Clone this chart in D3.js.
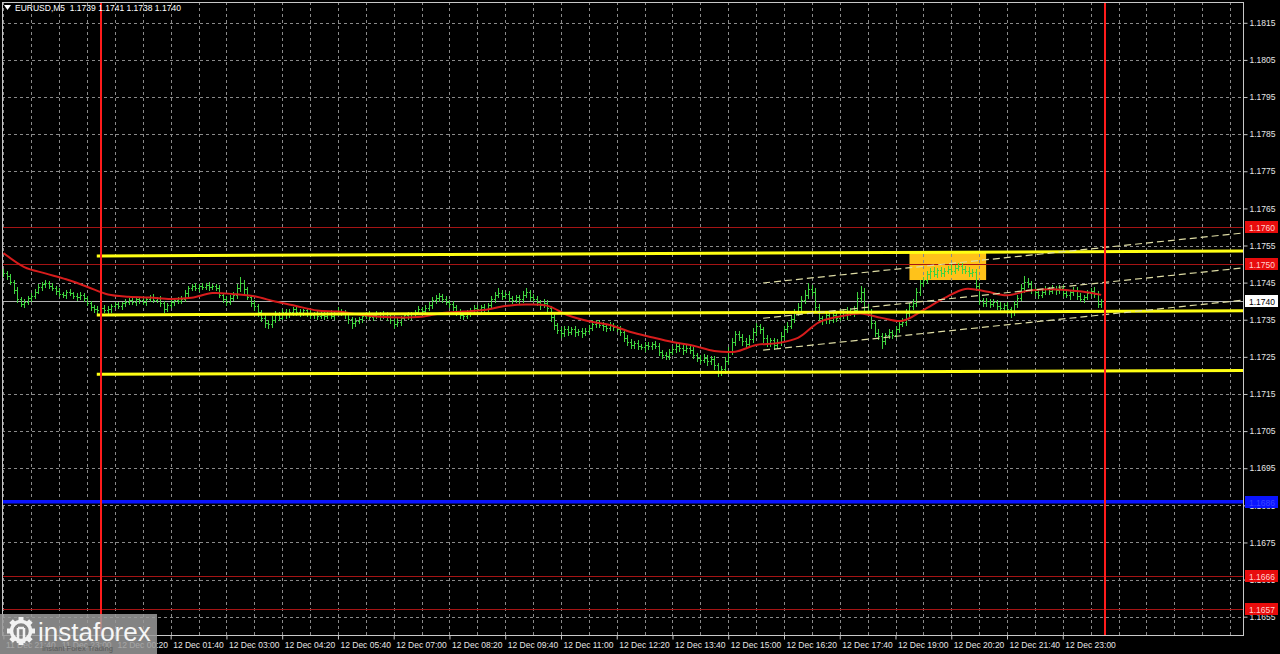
<!DOCTYPE html>
<html lang="en">
<head>
<meta charset="UTF-8">
<title>EURUSD,M5</title>
<script src="https://cdnjs.cloudflare.com/ajax/libs/d3/7.9.0/d3.min.js"></script>
<style>
    html, body { margin: 0; padding: 0; background: #000; overflow: hidden; }
    svg { display: block; }
    text { font-family: "Liberation Sans", Arial, sans-serif; }
</style>
</head>
<body>
<svg id="chart" width="1280" height="654"></svg>
<script>
// bar prices are stored in pips above 1.1700
const BASE = 1.17;
const PIP = 0.0001;
const firstBar = Date.UTC(2025, 11, 11, 21, 40);
const firstOpen = 48.0;

const closes = [
    47.5,46.8,45.2,43.0,40.5,39.2,39.8,40.8,41.5,42.6,43.8,44.5,
    45.0,44.2,43.6,42.8,42.0,41.8,42.5,42.1,41.5,41.0,41.6,40.8,
    39.5,38.4,37.9,37.5,38.2,37.6,38.0,38.8,39.2,38.7,39.4,39.9,
    40.3,39.8,40.5,40.2,39.9,40.6,41.0,40.4,40.8,39.5,38.0,38.9,
    39.8,40.4,40.1,40.7,42.2,43.5,44.0,43.6,44.2,43.8,44.3,43.9,
    44.1,43.5,41.8,40.6,39.8,40.9,41.6,43.5,45.0,43.2,41.2,39.5,
    38.6,37.0,35.5,34.2,33.8,35.0,36.4,35.6,37.2,36.5,37.0,37.8,
    37.2,36.8,37.5,36.9,36.2,36.7,35.9,36.4,36.0,36.6,36.1,36.8,
    37.4,37.0,36.5,35.2,34.0,34.6,35.3,36.0,36.4,35.8,36.2,36.6,
    36.0,36.5,35.7,35.0,33.8,34.5,35.6,36.2,35.8,36.5,37.0,37.8,
    37.4,38.2,39.0,40.2,40.8,41.3,40.6,39.8,39.2,38.4,37.2,36.4,
    36.0,36.8,37.6,38.2,37.8,38.5,38.0,38.9,40.5,41.6,42.3,41.4,
    41.9,40.8,40.2,41.0,40.5,41.8,42.5,41.2,40.6,39.8,39.0,39.6,
    38.2,35.8,33.5,32.2,31.5,32.6,31.8,32.4,31.6,32.0,31.4,32.1,
    32.8,33.9,34.2,33.6,33.2,32.8,33.5,33.0,32.6,31.8,30.2,28.9,
    28.2,28.6,28.0,27.6,28.3,27.8,28.5,27.9,26.4,25.6,25.2,26.3,
    27.2,27.8,27.4,26.8,27.5,26.9,25.6,24.8,24.2,24.8,23.9,24.5,
    22.8,21.2,21.6,24.0,26.5,29.0,31.2,30.4,29.2,28.5,29.8,31.6,
    33.2,32.4,30.0,28.8,29.5,28.2,28.9,30.6,32.5,33.4,35.2,37.0,
    38.4,40.2,41.8,43.2,42.6,38.5,35.4,34.8,36.2,35.0,36.4,35.6,
    37.0,36.2,37.4,36.8,37.5,40.8,42.6,38.5,37.2,34.0,31.5,30.6,
    29.4,30.8,31.6,31.0,32.6,33.8,34.5,36.8,38.6,39.5,42.4,44.8,
    45.6,47.2,48.0,47.4,48.3,47.6,48.1,48.7,48.2,49.0,49.4,48.6,
    48.2,47.5,47.9,44.0,40.2,39.4,40.0,39.2,39.7,38.8,38.2,38.9,
    37.8,37.0,39.2,40.8,43.5,45.2,44.6,43.0,42.4,41.8,42.5,43.2,
    42.7,43.4,42.9,43.6,42.2,41.6,42.4,43.0,41.4,40.6,41.2,42.3,
    42.8,42.0,39.2,40.0
];

// wick above max(open, close) and below min(open, close), pips
const wickUp = [
    0.8,0.5,0.6,0.4,0.9,0.6,0.7,0.5,0.8,0.6,0.9,0.7,
    0.6,0.4,0.8,0.5,0.7,0.6,0.5,0.9,0.4,0.6,0.8,0.5,
    0.7,0.5,0.6,0.8,0.4,0.9,0.6,0.5,0.7,0.6,0.4,0.8,
    0.5,0.7,0.6,0.4,0.8,0.5,0.6,0.9,0.4,0.7,0.5,0.6,
    0.8,0.5,0.7,0.6,0.9,0.7,0.6,0.8,0.5,0.7,0.6,0.9,
    0.5,0.6,0.8,0.4,0.7,0.9,1.0,1.2,1.5,0.8,0.6,0.5,
    0.7,0.6,0.5,0.8,0.6,0.9,1.0,0.7,0.8,0.6,0.9,0.5,
    0.6,0.8,0.5,0.7,0.6,0.4,0.8,0.6,0.7,0.5,0.9,0.6,
    1.0,0.6,0.5,0.7,0.6,0.8,0.5,0.7,0.6,0.9,0.5,0.7,
    0.6,0.8,0.5,0.7,0.6,0.9,0.5,0.7,0.8,0.6,0.7,0.9,
    0.6,0.8,0.7,0.9,1.0,0.8,0.6,0.7,0.5,0.8,0.6,0.7,
    0.5,0.8,0.6,0.9,0.7,0.6,0.8,0.7,1.0,0.9,1.2,0.8,
    0.7,0.9,0.6,0.8,0.7,1.0,1.1,0.6,0.8,0.7,0.5,0.9,
    0.8,0.6,0.7,0.5,0.9,0.8,0.6,0.7,0.9,0.5,0.8,0.6,
    0.9,1.0,0.8,0.6,0.7,0.5,0.9,0.6,0.7,0.8,0.6,0.7,
    0.8,0.6,0.9,0.5,0.7,0.8,0.6,0.9,0.7,0.5,0.8,0.9,
    0.7,1.0,0.6,0.8,0.7,0.6,0.8,0.5,0.7,0.9,0.6,0.8,
    0.7,0.6,0.9,1.0,1.1,1.2,0.9,0.8,0.7,0.9,1.0,1.1,
    0.9,0.7,0.6,0.8,0.7,0.6,0.9,1.0,0.8,0.9,1.1,1.0,
    1.0,1.2,1.1,1.6,1.2,0.9,0.8,0.7,1.0,0.8,0.9,0.7,
    0.8,0.9,1.0,0.7,1.2,1.8,1.5,1.0,0.8,0.6,0.7,0.9,
    0.8,0.6,0.9,0.7,0.8,0.9,1.0,1.1,0.8,1.0,1.2,0.9,
    1.0,0.8,0.9,1.1,0.7,1.0,0.8,0.9,1.2,0.8,1.0,0.9,
    0.8,1.0,0.7,0.9,0.8,0.7,0.9,0.6,0.8,0.7,0.9,0.6,
    0.8,0.7,0.9,1.0,1.2,1.5,1.0,0.8,0.7,0.9,0.6,0.8,
    0.7,0.9,0.6,0.8,0.7,0.9,0.6,0.8,0.7,0.9,0.6,0.8,
    0.7,0.9,0.8,0.6
];
const wickDown = [
    0.6,0.8,0.5,0.9,0.7,0.6,0.8,0.5,0.7,0.6,0.5,0.8,
    0.7,0.6,0.5,0.8,0.6,0.7,0.9,0.5,0.6,0.8,0.5,0.7,
    0.6,0.9,0.7,0.8,0.5,0.6,0.7,0.8,0.5,0.6,0.9,0.7,
    0.6,0.5,0.8,0.7,0.6,0.9,0.5,0.7,0.6,0.8,1.0,0.7,
    0.6,0.8,0.5,0.7,0.6,0.8,0.5,0.7,0.9,0.6,0.5,0.8,
    0.7,0.6,0.8,0.9,0.7,0.5,0.6,0.7,0.8,0.9,0.7,0.8,
    0.9,1.0,0.8,1.1,0.9,0.7,0.6,0.8,0.5,0.9,0.7,0.6,
    0.8,0.7,0.5,0.9,0.6,0.8,0.7,0.5,0.9,0.6,0.7,0.8,
    0.6,0.7,0.9,1.0,1.1,0.7,0.6,0.8,0.5,0.7,0.9,0.6,
    0.8,0.6,0.7,0.9,1.0,0.6,0.8,0.5,0.7,0.6,0.8,0.5,
    0.7,0.6,0.5,0.8,0.6,0.7,0.9,0.6,0.8,0.7,1.0,0.9,
    0.8,0.6,0.7,0.5,0.8,0.6,0.9,0.7,0.6,0.8,0.5,0.9,
    0.6,0.8,0.7,0.5,0.9,0.6,0.7,0.8,0.6,0.9,1.0,0.7,
    1.0,1.2,1.1,0.9,1.2,0.8,1.0,0.7,0.9,0.8,1.0,0.6,
    0.7,0.5,0.8,0.6,0.9,0.7,0.6,0.8,0.7,0.9,1.0,0.8,
    0.9,0.7,0.8,0.6,0.9,0.7,0.8,0.6,1.0,0.9,0.8,0.7,
    0.6,0.8,0.7,0.9,0.6,0.8,1.0,0.9,0.8,0.7,1.0,0.8,
    1.0,1.3,1.1,0.9,0.8,0.7,0.9,0.8,1.0,0.9,0.7,0.8,
    0.7,1.0,0.9,1.0,0.8,1.2,0.9,0.8,0.7,0.9,0.6,0.8,
    0.7,0.8,0.6,0.9,1.0,1.2,1.0,0.9,0.8,1.0,0.7,0.9,
    0.8,0.7,0.9,0.6,0.8,0.7,1.0,1.2,0.9,1.1,1.0,0.9,
    2.0,1.0,0.8,0.9,0.7,0.8,0.6,0.9,0.7,0.8,0.9,0.6,
    0.8,0.7,0.9,0.6,0.8,0.7,0.9,0.6,0.8,0.7,0.6,0.9,
    0.7,0.8,0.6,0.9,1.0,0.8,0.7,0.9,0.6,0.8,0.9,0.7,
    1.0,1.2,0.8,0.7,0.6,0.9,0.7,0.8,0.6,0.9,0.7,0.6,
    0.8,0.6,0.9,0.7,0.8,0.6,0.9,0.7,0.8,0.6,0.9,0.7,
    0.6,0.8,0.9,0.7
];

// red moving average, read every 6th bar (plus the last bar), pips
const maPips = [
    53.0,49.2,47.5,45.9,43.9,41.8,41.2,41.0,40.6,40.9,42.2,41.9,41.3,39.9,
    38.7,37.5,37.2,36.4,35.8,35.6,35.8,36.8,37.2,37.6,38.7,39.1,38.8,36.2,
    34.6,33.6,31.7,30.3,29.0,28.0,26.6,26.4,28.2,28.7,30.1,34.3,35.9,36.7,
    35.5,34.7,37.6,40.8,43.3,42.6,41.6,42.8,43.2,42.9,42.3,41.7
];

const priceTicks = [1.1655, 1.1665, 1.1675, 1.1685, 1.1695, 1.1705, 1.1715, 1.1725,
    1.1735, 1.1745, 1.1755, 1.1765, 1.1775, 1.1785, 1.1795, 1.1805, 1.1815];
const timeLabels = ["11 Dec 21:40", "11 Dec 23:00", "12 Dec 00:20", "12 Dec 01:40",
    "12 Dec 03:00", "12 Dec 04:20", "12 Dec 05:40", "12 Dec 07:00", "12 Dec 08:20",
    "12 Dec 09:40", "12 Dec 11:00", "12 Dec 12:20", "12 Dec 13:40", "12 Dec 15:00",
    "12 Dec 16:20", "12 Dec 17:40", "12 Dec 19:00", "12 Dec 20:20", "12 Dec 21:40",
    "12 Dec 23:00"];

const redLevels = [1.1760, 1.1750, 1.1666, 1.1657];
const blueLevel = 1.1686;
const bidPrice = 1.1740;
const quote = ["1.1739", "1.1741", "1.1738", "1.1740"];

// yellow trend lines: price at start / end
const yellowStart = [1.17522, 1.17363, 1.17203];
const yellowEnd = [1.17535, 1.17374, 1.17213];
// dashed channel
const channelStart = [1.17449, 1.17354, 1.17268];
const channelEnd = [1.17584, 1.17490, 1.17403];
const boxTop = 1.17533, boxBottom = 1.17457;

const minute = 60000;
const day0 = Date.UTC(2025, 11, 12, 0, 0);
function at(min) { return new Date(day0 + min * minute); }

const plotL = 2, plotR = 1244, plotT = 2, plotB = 636;

var svg = d3.select("#chart");
svg.append("rect").attr("width", 1280).attr("height", 654).attr("fill", "#000");

var x = d3.scaleUtc()
    .domain([at(-142), at(1640)])
    .range([plotL, plotR]);
var y = d3.scaleLinear()
    .domain([1.16498, 1.18206])
    .range([plotB, plotT]);

function px(v) { return Math.round(v) + 0.5; }

svg.append("clipPath").attr("id", "plot")
    .append("rect").attr("x", plotL).attr("y", plotT)
    .attr("width", plotR - plotL).attr("height", plotB - plotT);

var g = svg.append("g").attr("clip-path", "url(#plot)");

// orange box (background object)
g.append("rect")
    .attr("x", x(at(1160))).attr("y", y(boxTop))
    .attr("width", x(at(1270)) - x(at(1160)))
    .attr("height", y(boxBottom) - y(boxTop))
    .attr("fill", "#ffc21a");

// grid
var grid = g.append("g")
    .attr("stroke", "#8a8a8a")
    .attr("stroke-width", 1)
    .attr("stroke-dasharray", "3,3");
grid.selectAll("line.h")
    .data(priceTicks)
    .join("line").attr("class", "h")
    .attr("x1", plotL).attr("x2", plotR)
    .attr("y1", function (d) { return px(y(d)); })
    .attr("y2", function (d) { return px(y(d)); });
grid.selectAll("line.v")
    .data(d3.range(-140, 1641, 40))
    .join("line").attr("class", "v")
    .attr("y1", plotT).attr("y2", plotB)
    .attr("x1", function (d) { return px(x(at(d))); })
    .attr("x2", function (d) { return px(x(at(d))); });

// horizontal levels
g.selectAll("line.red")
    .data(redLevels)
    .join("line").attr("class", "red")
    .attr("x1", plotL).attr("x2", plotR)
    .attr("y1", function (d) { return px(y(d)); })
    .attr("y2", function (d) { return px(y(d)); })
    .attr("stroke", "#a51414")
    .attr("stroke-width", 1);

g.append("line")
    .attr("x1", plotL).attr("x2", plotR)
    .attr("y1", px(y(bidPrice))).attr("y2", px(y(bidPrice)))
    .attr("stroke", "#b4b4b4").attr("stroke-width", 1);

// bars
var bars = closes.map(function (c, i) {
    var o = i === 0 ? firstOpen : closes[i - 1];
    return {
        time: new Date(firstBar + i * 5 * minute),
        open: BASE + o * PIP,
        close: BASE + c * PIP,
        high: BASE + (Math.max(o, c) + wickUp[i]) * PIP,
        low: BASE + (Math.min(o, c) - wickDown[i]) * PIP
    };
});

g.append("g")
    .selectAll("path")
    .data(bars)
    .join("path")
    .attr("d", function (d) {
        var cx = px(x(d.time));
        var yo = px(y(d.open)), yc = px(y(d.close));
        return "M" + cx + "," + Math.round(y(d.high)) + "V" + (Math.round(y(d.low)) + 1) +
            "M" + (cx - 1.5) + "," + yo + "H" + cx +
            "M" + cx + "," + yc + "H" + (cx + 1.5);
    })
    .attr("fill", "none")
    .attr("stroke", "#3fd43f")
    .attr("stroke-width", 1);

// moving average
var maBars = d3.range(0, 313, 6).concat([315]);
var maLine = d3.line()
    .x(function (d, i) { return x(new Date(firstBar + maBars[i] * 5 * minute)); })
    .y(function (d) { return y(BASE + d * PIP); })
    .curve(d3.curveCatmullRom);
g.append("path")
    .datum(maPips)
    .attr("d", maLine)
    .attr("fill", "none")
    .attr("stroke", "#d71c1c")
    .attr("stroke-width", 2);

// yellow trend lines
g.selectAll("line.yellow")
    .data(yellowStart)
    .join("line").attr("class", "yellow")
    .attr("x1", x(at(-6))).attr("x2", plotR)
    .attr("y1", function (d) { return y(d); })
    .attr("y2", function (d, i) { return y(yellowEnd[i]); })
    .attr("stroke", "#ffff14")
    .attr("stroke-width", 3);

// dashed channel
g.selectAll("line.channel")
    .data(channelStart)
    .join("line").attr("class", "channel")
    .attr("x1", x(at(950))).attr("x2", plotR)
    .attr("y1", function (d) { return y(d); })
    .attr("y2", function (d, i) { return y(channelEnd[i]); })
    .attr("stroke", "#dedca4")
    .attr("stroke-width", 1.2)
    .attr("stroke-dasharray", "7,4");

// blue level
g.append("line")
    .attr("x1", plotL).attr("x2", plotR)
    .attr("y1", y(blueLevel)).attr("y2", y(blueLevel))
    .attr("stroke", "#0a14ff").attr("stroke-width", 3.5);

// day separators
g.selectAll("line.day")
    .data([at(0), at(1440)])
    .join("line").attr("class", "day")
    .attr("x1", function (d) { return Math.round(x(d)); })
    .attr("x2", function (d) { return Math.round(x(d)); })
    .attr("y1", plotT).attr("y2", plotB)
    .attr("stroke", "#ff1c1c").attr("stroke-width", 2);

// frame
svg.append("rect")
    .attr("x", plotL + 0.5).attr("y", plotT + 0.5)
    .attr("width", plotR - plotL - 1).attr("height", plotB - plotT - 1)
    .attr("fill", "none").attr("stroke", "#c8c8c8");

// price axis
var yAxis = svg.append("g")
    .attr("transform", "translate(" + (plotR - 0.5) + ",0)")
    .call(d3.axisRight(y).tickValues(priceTicks).tickFormat(d3.format(".4f")).tickSize(4).tickPadding(2));
yAxis.select(".domain").remove();
yAxis.selectAll("line").attr("stroke", "#c8c8c8");
yAxis.selectAll("text").attr("fill", "#e6e6e6").attr("font-size", "8.5px")
    .attr("font-family", "'Liberation Sans', Arial, sans-serif");

// time axis
var parseLabel = d3.utcParse("%d %b %H:%M %Y");
var tickDates = timeLabels.map(function (s) { return parseLabel(s + " 2025"); });
var xAxis = svg.append("g")
    .attr("transform", "translate(0," + (plotB - 0.5) + ")")
    .call(d3.axisBottom(x).tickValues(tickDates).tickFormat(d3.utcFormat("%d %b %H:%M")).tickSize(4));
xAxis.select(".domain").remove();
xAxis.selectAll("line").attr("stroke", "#c8c8c8");
xAxis.selectAll("text")
    .attr("fill", "#e6e6e6").attr("font-size", "8.5px")
    .attr("font-family", "'Liberation Sans', Arial, sans-serif")
    .attr("text-anchor", "start").attr("x", 2).attr("y", 6).attr("dy", "0.71em");

// price labels on the axis
function priceTag(value, fill, color) {
    var yy = Math.round(y(value));
    svg.append("rect")
        .attr("x", plotR + 1).attr("y", yy - 6)
        .attr("width", 33).attr("height", 12)
        .attr("fill", fill);
    svg.append("text")
        .attr("x", plotR + 5).attr("y", yy + 3.5)
        .attr("font-size", "8.5px")
        .attr("fill", color)
        .text(d3.format(".4f")(value));
}
redLevels.forEach(function (v) { priceTag(v, "#e80c0c", "#ffd0d0"); });
priceTag(blueLevel, "#0a14ff", "#3a44ff");
priceTag(bidPrice, "#ffffff", "#000000");

// header
svg.append("path").attr("d", "M4,5H11L7.5,10Z").attr("fill", "#ffffff");
svg.append("text")
    .attr("x", 15).attr("y", 11)
    .attr("font-size", "8.5px")
    .attr("fill", "#ffffff")
    .attr("xml:space", "preserve")
    .text("EURUSD,M5  " + quote.join(" "));

// watermark
var logo = svg.append("g");
logo.append("rect")
    .attr("x", 0).attr("y", 614).attr("width", 157).attr("height", 40)
    .attr("fill", "#9a9a9a").attr("opacity", 0.85);
var gear = logo.append("g").attr("transform", "translate(21,631)");
gear.selectAll("rect")
    .data(d3.range(0, 360, 45))
    .join("rect")
    .attr("x", -2.5).attr("y", -14).attr("width", 5).attr("height", 6)
    .attr("fill", "#f2f2f2")
    .attr("transform", function (d) { return "rotate(" + d + ")"; });
gear.append("circle").attr("r", 9.5).attr("fill", "none")
    .attr("stroke", "#f2f2f2").attr("stroke-width", 3.5);
gear.append("path").attr("d", "M-3,-3V12M3,-3V12M-3,-3H3")
    .attr("stroke", "#f2f2f2").attr("stroke-width", 2.5).attr("fill", "none");
logo.append("text")
    .attr("x", 38).attr("y", 641)
    .attr("font-size", "26px")
    .attr("font-family", "'Open Sans', 'Liberation Sans', sans-serif")
    .attr("fill", "#f6f6f6")
    .text("instaforex");
logo.append("text")
    .attr("x", 42).attr("y", 651)
    .attr("font-size", "7.5px")
    .attr("fill", "#5a5a5a")
    .text("Instant Forex Trading");
</script>
</body>
</html>
